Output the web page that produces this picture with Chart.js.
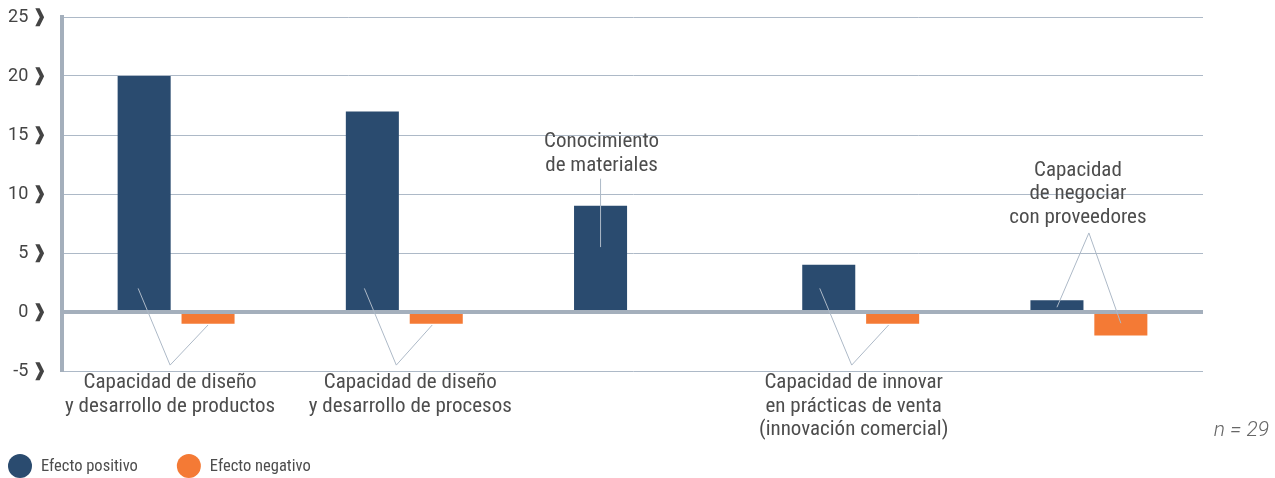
<!DOCTYPE html>
<html lang="es">
<head>
<meta charset="utf-8">
<script src="https://cdn.jsdelivr.net/npm/chart.js@4/dist/chart.umd.min.js"></script>
<style>
  html, body { margin: 0; padding: 0; background: #fff; }
  #grafico { display: block; }
</style>
</head>
<body>
<canvas id="grafico" width="1275" height="478"></canvas>
<script>
// Datos del gráfico
const categorias = [
  ['Capacidad de diseño', 'y desarrollo de productos'],
  ['Capacidad de diseño', 'y desarrollo de procesos'],
  ['Conocimiento', 'de materiales'],
  ['Capacidad de innovar', 'en prácticas de venta', '(innovación comercial)'],
  ['Capacidad', 'de negociar', 'con proveedores']
];
const efectoPositivo = [20, 17, 9, 4, 1];
const efectoNegativo = [-1, -1, null, -1, -2];
const ticksY = [-5, 0, 5, 10, 15, 20, 25];
const muestra = 'n = 29';

const AZUL = '#2a4b6f';
const NARANJA = '#f47a35';
const GRIS_EJE = '#a4afbc';
const GRIS_REJILLA = '#adb9c7';
const TEXTO = '#4d4d4d';
const FUENTE = '"Roboto Condensed", "Liberation Sans Narrow", Roboto, sans-serif';

// Llamadas con líneas guía: texto (ref = barra o centro de grupo, v = valor de la primera línea)
// y tramos entre dos puntos definidos igual
const llamadas = [
  { texto: { ref: null, dx: -6, v: -6.0 },
    tramos: [[{ ref: null, dx: -6, v: -4.5 }, { ref: 0, dx: -6, v: 2 }],
             [{ ref: null, dx: -6, v: -4.5 }, { ref: 1, dx: 0, v: -1.1 }]] },
  { texto: { ref: null, dx: 6, v: -6.0 },
    tramos: [[{ ref: null, dx: -8, v: -4.5 }, { ref: 0, dx: -8, v: 2 }],
             [{ ref: null, dx: -8, v: -4.5 }, { ref: 1, dx: -4, v: -1.1 }]] },
  { texto: { ref: 0, dx: 1, v: 14.4 },
    tramos: [[{ ref: 0, dx: 0, v: 11.3 }, { ref: 0, dx: 0, v: 5.5 }]] },
  { texto: { ref: null, dx: -7, v: -6.0 },
    tramos: [[{ ref: null, dx: -9, v: -4.5 }, { ref: 0, dx: -9, v: 2 }],
             [{ ref: null, dx: -9, v: -4.5 }, { ref: 1, dx: -4, v: -1.1 }]] },
  { texto: { ref: null, dx: -11, v: 12.0 },
    tramos: [[{ ref: null, dx: 0, v: 6.7 }, { ref: 0, dx: 0, v: 0.4 }],
             [{ ref: null, dx: 0, v: 6.7 }, { ref: 1, dx: 0, v: -0.95 }]] }
];

const llamadasPlugin = {
  id: 'llamadas',
  afterDatasetsDraw(chart) {
    const { ctx, scales: { x, y }, chartArea } = chart;
    const metas = [chart.getDatasetMeta(0), chart.getDatasetMeta(1)];
    const posX = (i, p) => (p.ref === null ? x.getPixelForValue(i) : metas[p.ref].data[i].x) + p.dx;

    ctx.save();
    // línea del cero por encima de las barras
    const y0 = y.getPixelForValue(0);
    ctx.strokeStyle = GRIS_EJE;
    ctx.lineWidth = 4;
    ctx.beginPath();
    ctx.moveTo(chartArea.left, y0);
    ctx.lineTo(chartArea.right, y0);
    ctx.stroke();

    ctx.strokeStyle = GRIS_REJILLA;
    ctx.lineWidth = 1;
    llamadas.forEach((ll, i) => {
      ll.tramos.forEach(([a, b]) => {
        ctx.beginPath();
        ctx.moveTo(posX(i, a), y.getPixelForValue(a.v));
        ctx.lineTo(posX(i, b), y.getPixelForValue(b.v));
        ctx.stroke();
      });
      ctx.fillStyle = TEXTO;
      ctx.font = '21px ' + FUENTE;
      ctx.textAlign = 'center';
      ctx.textBaseline = 'middle';
      const tx = posX(i, ll.texto);
      const ty = y.getPixelForValue(ll.texto.v);
      categorias[i].forEach((linea, k) => ctx.fillText(linea, tx, ty + k * 23.5));
    });

    // leyenda con círculos
    ctx.textAlign = 'left';
    ctx.font = '16.5px ' + FUENTE;
    let lx = 8;
    chart.data.datasets.forEach(ds => {
      ctx.fillStyle = ds.backgroundColor;
      ctx.beginPath();
      ctx.arc(lx + 12, 466, 12, 0, Math.PI * 2);
      ctx.fill();
      ctx.fillStyle = TEXTO;
      ctx.fillText(ds.label, lx + 33, 467);
      lx += 33 + ctx.measureText(ds.label).width + 39;
    });

    ctx.font = 'italic 300 21px Roboto, sans-serif';
    ctx.fillStyle = '#666';
    ctx.textAlign = 'right';
    ctx.fillText(muestra, chart.width - 6, 431);
    ctx.restore();
  }
};

new Chart(document.getElementById('grafico'), {
  type: 'bar',
  data: {
    labels: categorias,
    datasets: [
      { label: 'Efecto positivo', data: efectoPositivo, backgroundColor: AZUL, borderWidth: 0 },
      { label: 'Efecto negativo', data: efectoNegativo, backgroundColor: NARANJA, borderWidth: 0 }
    ]
  },
  options: {
    responsive: false,
    animation: false,
    categoryPercentage: 0.56,
    barPercentage: 0.83,
    layout: { padding: { top: 17, right: 72, left: 0, bottom: 0 } },
    plugins: {
      tooltip: { enabled: false },
      legend: { display: false }
    },
    scales: {
      x: {
        grid: { display: false },
        border: { display: false },
        ticks: { display: false },
        afterFit(scale) { scale.height = 107; }
      },
      y: {
        min: -5,
        max: 25,
        afterBuildTicks(scale) { scale.ticks = ticksY.map(v => ({ value: v })); },
        afterFit(scale) {
          scale.width = 62;
          scale.paddingTop = 0;
          scale.paddingBottom = 0;
        },
        grid: {
          color: ctx => (ctx.tick && ctx.tick.value === 0 ? GRIS_EJE : GRIS_REJILLA),
          lineWidth: ctx => (ctx.tick && ctx.tick.value === 0 ? 4 : 1),
          drawTicks: false
        },
        border: { display: true, color: GRIS_EJE, width: 4 },
        ticks: {
          padding: 15,
          color: '#444',
          font: { family: 'Roboto, sans-serif', size: 18 },
          callback: v => v + '\u2009❱'
        }
      }
    }
  },
  plugins: [llamadasPlugin]
});
</script>
</body>
</html>
